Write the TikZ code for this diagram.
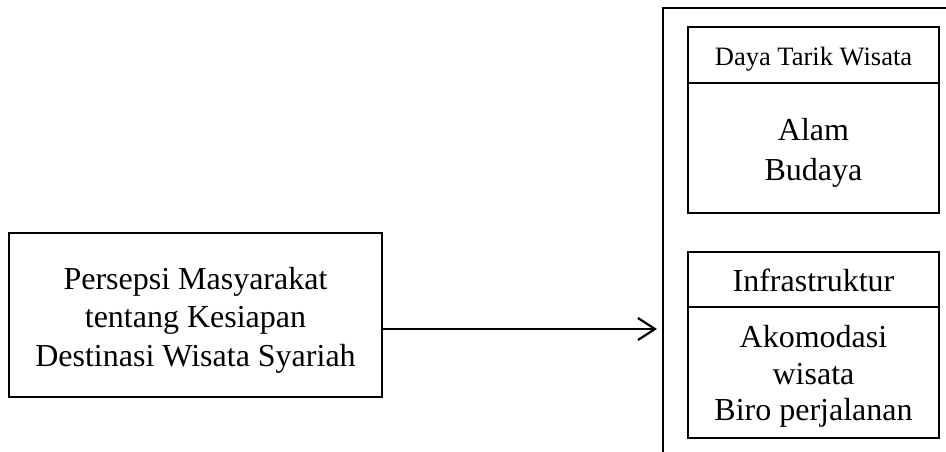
\documentclass[tikz,border=0pt]{standalone}
\usepackage{fontspec}
\setmainfont{Liberation Serif}
\usetikzlibrary{arrows.meta}
\tikzset{
  bigtxt/.style={font=\fontsize{32}{38.5}\selectfont, align=center, inner sep=0pt},
  smalltxt/.style={font=\fontsize{26.5}{32}\selectfont, align=center, inner sep=0pt},
  boxstyle/.style={draw, line width=2pt, inner sep=0pt, anchor=north west},
}
\begin{document}
\begin{tikzpicture}[x=1pt,y=-1pt]
\useasboundingbox (0,0) rectangle (946,452);
% left box
\node[boxstyle, minimum width=373pt, minimum height=164pt] (lb) at (8,232) {};
\node[bigtxt] (lbt) at ([yshift=-5pt]lb.center)
  {Persepsi Masyarakat\\tentang Kesiapan\\Destinasi Wisata Syariah};
% outer (cut-off) frame
\coordinate (fbl) at (663,452);
\coordinate (ftl) at (663,8);
\coordinate (ftr) at (946,8);
\draw[line width=2pt] (fbl) -- (ftl) -- (ftr);
% box 1
\node[boxstyle, minimum width=251pt, minimum height=56pt] (h1) at (687,26) {};
\node[smalltxt] (h1t) at ([yshift=-4pt]h1.center) {Daya Tarik Wisata};
\node[boxstyle, minimum width=251pt, minimum height=130pt] (b1) at (687,82) {};
\node[bigtxt, font=\fontsize{32}{40}\selectfont] (b1t) at ([yshift=-5pt]b1.center) {Alam\\Budaya};
% box 2
\node[boxstyle, minimum width=251pt, minimum height=55pt] (h2) at (687,251) {};
\node[bigtxt] (h2t) at ([yshift=-1pt]h2.center) {Infrastruktur};
\node[boxstyle, minimum width=251pt, minimum height=131pt] (b2) at (687,306) {};
\node[bigtxt, font=\fontsize{32}{36.5}\selectfont] (b2t) at ([yshift=-4pt]b2.center) {Akomodasi\\wisata\\Biro perjalanan};
% arrow
\coordinate (tip) at (657,329);
\draw[line width=2.2pt, -{Straight Barb[length=17pt,width=22pt]}] (lb.east |- tip) -- (tip);
\end{tikzpicture}
\end{document}
